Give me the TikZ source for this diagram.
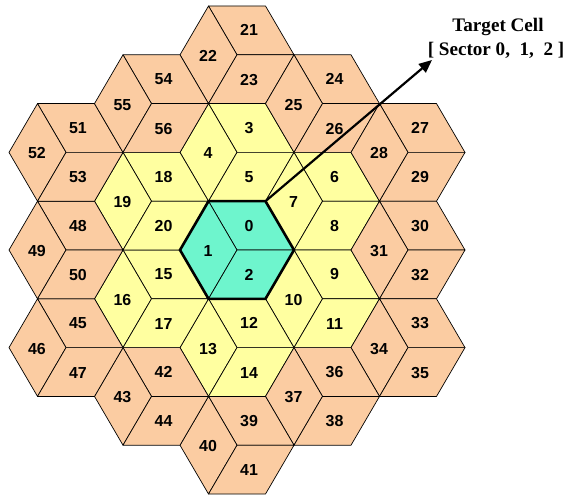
\documentclass[tikz,border=0pt]{standalone}
\usepackage{fontspec}
\setmainfont{Liberation Sans}
\newfontfamily\titlefont{Liberation Serif}
\usetikzlibrary{arrows.meta}
\definecolor{cyanfill}{RGB}{110,245,205}
\definecolor{yelfill}{RGB}{255,255,160}
\definecolor{peachfill}{RGB}{251,204,162}
\tikzset{
  sector/.style={draw=black, line width=0.7pt, line join=round},
  num/.style={font=\fontsize{16}{19}\selectfont\bfseries, inner sep=0pt},
  targethex/.style={draw=black, line width=2.6pt, line join=miter},
  ttl/.style={font=\titlefont\fontsize{19.2}{23}\selectfont\bfseries, inner sep=0pt},
  pointer/.style={draw=black, line width=2.2pt, -{Triangle[length=13bp,width=11bp]}}
}
\begin{document}
\begin{tikzpicture}[x=1bp,y=-1bp]
\useasboundingbox (0,0) rectangle (564,495);
\clip (0,0) rectangle (564,495);
\foreach \i/\j/\p/\q/\r/\col in {
  0/0/0/1/2/cyanfill,
  0/-2/3/4/5/yelfill, 1/-1/6/7/8/yelfill, 1/1/9/10/11/yelfill,
  0/2/12/13/14/yelfill, -1/1/15/16/17/yelfill, -1/-1/18/19/20/yelfill,
  0/-4/21/22/23/peachfill, 1/-3/24/25/26/peachfill, 2/-2/27/28/29/peachfill,
  2/0/30/31/32/peachfill, 2/2/33/34/35/peachfill, 1/3/36/37/38/peachfill,
  0/4/39/40/41/peachfill, -1/3/42/43/44/peachfill, -2/2/45/46/47/peachfill,
  -2/0/48/49/50/peachfill, -2/-2/51/52/53/peachfill, -1/-3/54/55/56/peachfill}{
  \pgfmathsetmacro\cx{237+85.5*\i}
  \pgfmathsetmacro\cy{250+48.8*\j}
  \filldraw[sector, fill=\col] (\cx,\cy) -- ++(-28.5,-48.8) -- ++(57,0) -- ++(28.5,48.8) -- cycle;
  \filldraw[sector, fill=\col] (\cx,\cy) -- ++(-28.5,-48.8) -- ++(-28.5,48.8) -- ++(28.5,48.8) -- cycle;
  \filldraw[sector, fill=\col] (\cx,\cy) -- ++(57,0) -- ++(-28.5,48.8) -- ++(-57,0) -- cycle;
  \node[num] (s\p) at (\cx+12,\cy-24.4) {\p};
  \node[num] (s\q) at (\cx-29,\cy+1) {\q};
  \node[num] (s\r) at (\cx+12,\cy+25) {\r};
}
\draw[targethex] (208.5,201.2) -- (265.5,201.2) -- (294,250) -- (265.5,298.8) -- (208.5,298.8) -- (180,250) -- cycle;
\coordinate (c0tr) at (265.5,201.2);
\coordinate (tip) at (432,60);
\draw[pointer] (c0tr) -- (tip);
\node[ttl] (title1) at (498,27) {Target Cell};
\node[ttl] (title2) at (496,50) {[ Sector 0,\ \ 1,\ \ 2 ]};
\end{tikzpicture}
\end{document}
